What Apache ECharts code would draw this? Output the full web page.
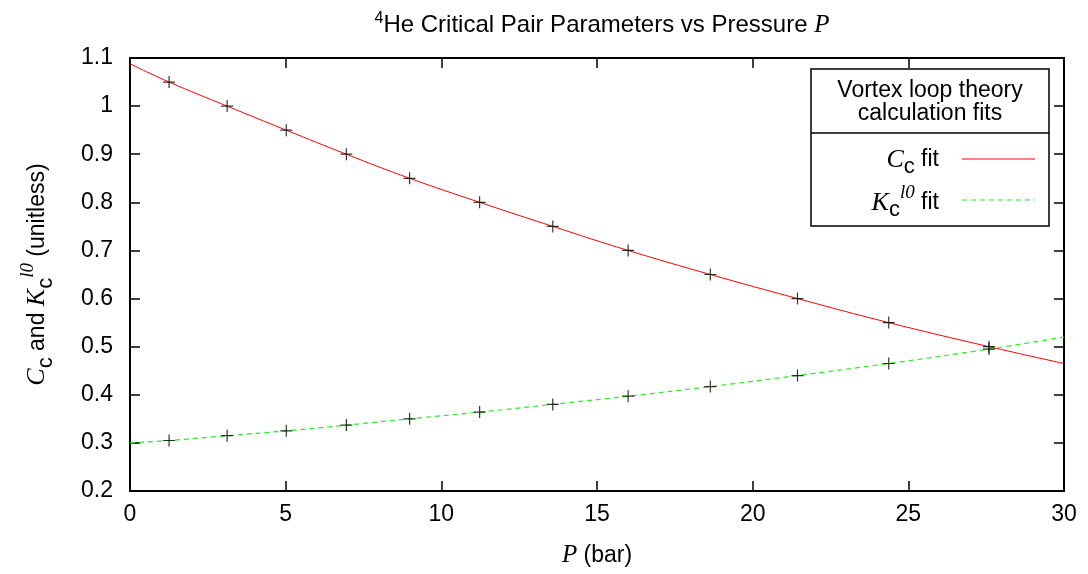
<!DOCTYPE html>
<html><head><meta charset="utf-8">
<script src="https://cdn.jsdelivr.net/npm/echarts@6/dist/echarts.min.js"></script>
<style>html,body{margin:0;padding:0;background:#fff}#c{width:1088px;height:574px}</style>
</head><body><div id="c"></div>
<script>
const pressure = [1.255, 3.12, 5.02, 6.95, 8.98, 11.23, 13.58, 16.0, 18.64, 21.44, 24.37, 27.59];
const ccPoints = [1.05, 1.0, 0.95, 0.9, 0.85, 0.8, 0.75, 0.7, 0.65, 0.6, 0.55, 0.5];
const kcPoints = [0.305, 0.315, 0.325, 0.337, 0.35, 0.364, 0.38, 0.397, 0.417, 0.44, 0.465, 0.495];
const fitX = [0, 1.255, 3.12, 5.02, 6.95, 8.98, 11.23, 13.58, 16.0, 18.64, 21.44, 24.37, 27.59, 30];
const ccFit = [1.088, 1.05, 1.0, 0.95, 0.9, 0.85, 0.8, 0.75, 0.7, 0.65, 0.6, 0.55, 0.5, 0.465];
const kcFit = [0.30, 0.305, 0.315, 0.325, 0.337, 0.35, 0.364, 0.38, 0.397, 0.417, 0.44, 0.465, 0.495, 0.52];
const xTicks = [0, 5, 10, 15, 20, 25, 30];
const yTicks = [0.2, 0.3, 0.4, 0.5, 0.6, 0.7, 0.8, 0.9, 1, 1.1];

const pairs = (xs, ys) => xs.map((x, i) => [x, ys[i]]);
const plus = 'path://M0,5.4H12V6.6H0Z M5.4,0H6.6V12H5.4Z';
const F = 'Liberation Sans, Arial, sans-serif';
const SERIF = 'Liberation Serif, Times New Roman, serif';
const FS = 23;
const GREEN = '#22ee22';

const chart = echarts.init(document.getElementById('c'), null, {renderer: 'canvas'});
const axisCommon = {
  axisLine: {show: true, onZero: false, lineStyle: {color: '#000', width: 2}},
  axisTick: {show: true, inside: true, length: 10, lineStyle: {color: '#000', width: 1.5}},
  splitLine: {show: false},
  axisLabel: {color: '#000', fontFamily: F, fontSize: FS}
};
chart.setOption({
  animation: false,
  backgroundColor: '#fff',
  title: {
    text: '{sup|4}He Critical Pair Parameters vs Pressure {it|P}',
    left: 597, textAlign: 'center', top: 6,
    textStyle: {
      fontFamily: F, fontSize: 24, fontWeight: 'normal', color: '#000',
      rich: {
        sup: {fontSize: 16, verticalAlign: 'top', padding: [0, 0, 12, 0], fontFamily: F, color: '#000'},
        it: {fontFamily: SERIF, fontStyle: 'italic', fontSize: 25, color: '#000'}
      }
    }
  },
  grid: {left: 130, right: 24, top: 58, bottom: 83, show: true, borderColor: '#000', borderWidth: 2, backgroundColor: 'transparent'},
  xAxis: [{
    type: 'value', min: 0, max: 30, interval: 5, position: 'bottom',
    ...axisCommon,
    axisLabel: {...axisCommon.axisLabel, margin: 12, formatter: v => xTicks.includes(v) ? String(v) : ''},
    name: '{it|P} (bar)', nameLocation: 'middle', nameGap: 52,
    nameTextStyle: {fontFamily: F, fontSize: FS, color: '#000', verticalAlign: 'top',
      rich: {it: {fontFamily: SERIF, fontStyle: 'italic', fontSize: 25, color: '#000'}}}
  }, {
    type: 'value', min: 0, max: 30, interval: 5, position: 'top',
    ...axisCommon, axisLabel: {show: false}
  }],
  yAxis: [{
    type: 'value', min: 0.2, max: 1.1, interval: 0.1, position: 'left',
    ...axisCommon,
    axisLabel: {...axisCommon.axisLabel, margin: 17, formatter: v => {
      const r = Math.round(v * 10) / 10; return yTicks.includes(r) ? String(r) : '';
    }},
    name: '{it|C}{sub|c} and {it|K}{sub|c}{sup|l0} (unitless)', nameLocation: 'middle', nameGap: 73, nameRotate: 90,
    nameTextStyle: {fontFamily: F, fontSize: FS, color: '#000',
      rich: {
        it: {fontFamily: SERIF, fontStyle: 'italic', fontSize: 26, color: '#000'},
        sub: {fontFamily: F, fontSize: 22, color: '#000', padding: [14, 0, 0, 0], verticalAlign: 'bottom'},
        sup: {fontFamily: SERIF, fontStyle: 'italic', fontSize: 19, color: '#000', padding: [0, 0, 20, 0], verticalAlign: 'top'}
      }}
  }, {
    type: 'value', min: 0.2, max: 1.1, interval: 0.1, position: 'right',
    ...axisCommon, axisLabel: {show: false}
  }],
  series: [
    {type: 'line', data: pairs(fitX, ccFit), smooth: 0.4, showSymbol: false, lineStyle: {color: '#ff0000', width: 1}, z: 2},
    {type: 'line', data: pairs(fitX, kcFit), smooth: 0.4, showSymbol: false, lineStyle: {color: GREEN, width: 1.2, type: [5, 4]}, z: 2},
    {type: 'scatter', data: pairs(pressure, ccPoints), symbol: plus, symbolSize: 12, itemStyle: {color: '#000'}, z: 3},
    {type: 'scatter', data: pairs(pressure, kcPoints), symbol: plus, symbolSize: 12, itemStyle: {color: '#000'}, z: 3}
  ],
  graphic: [
    {type: 'rect', shape: {x: 811, y: 69, width: 238, height: 157}, style: {fill: '#fff', stroke: '#000', lineWidth: 1.5}, z: 10},
    {type: 'line', shape: {x1: 811, y1: 133, x2: 1049, y2: 133}, style: {stroke: '#000', lineWidth: 1.5}, z: 11},
    {type: 'text', x: 930, y: 91, style: {text: 'Vortex loop theory', font: '23px ' + F, fill: '#000', textAlign: 'center', textVerticalAlign: 'middle'}, z: 11},
    {type: 'text', x: 930, y: 114, style: {text: 'calculation fits', font: '23px ' + F, fill: '#000', textAlign: 'center', textVerticalAlign: 'middle'}, z: 11},
    {type: 'text', x: 939, y: 160, style: {
      text: '{it|C}{sub|c} fit', textAlign: 'right', textVerticalAlign: 'middle', fill: '#000', font: '23px ' + F,
      rich: {it: {fontFamily: SERIF, fontStyle: 'italic', fontSize: 26, fill: '#000'},
             sub: {fontFamily: F, fontSize: 22, fill: '#000', padding: [14, 0, 0, 0]}}
    }, z: 11},
    {type: 'line', shape: {x1: 962, y1: 159, x2: 1035, y2: 159}, style: {stroke: '#ff0000', lineWidth: 1}, z: 11},
    {type: 'text', x: 939, y: 203, style: {
      text: '{it|K}{sub|c}{sup|l0} fit', textAlign: 'right', textVerticalAlign: 'middle', fill: '#000', font: '23px ' + F,
      rich: {it: {fontFamily: SERIF, fontStyle: 'italic', fontSize: 26, fill: '#000'},
             sub: {fontFamily: F, fontSize: 22, fill: '#000', padding: [14, 0, 0, 0]},
             sup: {fontFamily: SERIF, fontStyle: 'italic', fontSize: 19, fill: '#000', padding: [0, 0, 20, 0]}}
    }, z: 11},
    {type: 'line', shape: {x1: 962, y1: 200, x2: 1035, y2: 200}, style: {stroke: GREEN, lineWidth: 1.2, lineDash: [5, 4]}, z: 11}
  ]
});
</script></body></html>
